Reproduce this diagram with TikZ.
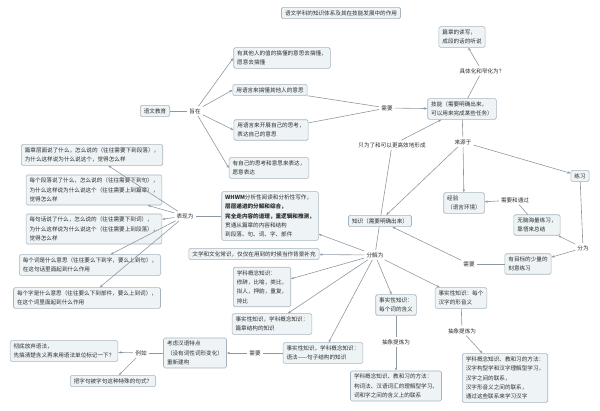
\documentclass[tikz,border=0pt]{standalone}
\usepackage{fontspec}
\newfontfamily\cjk{Noto Sans CJK SC}
\usetikzlibrary{arrows.meta}
\definecolor{boxfill}{HTML}{EEF3F6}
\definecolor{boxline}{HTML}{A7B4BF}
\definecolor{linkgray}{HTML}{8E98A2}
\definecolor{inkgray}{HTML}{2E2E2E}

\begin{document}
\begin{tikzpicture}[x=1pt,y=-1pt,
  box/.style={draw=boxline,fill=boxfill,rounded corners=1.5pt,line width=0.6pt,
    align=left,inner xsep=3.5pt,inner ysep=3pt,text=inkgray,
    font=\cjk\fontsize{5.6}{9.4}\selectfont},
  lbl/.style={inner sep=2pt,text=inkgray,font=\cjk\fontsize{5.6}{7}\selectfont},
  link/.style={draw=linkgray,line width=0.6pt},
  arr/.style={link,-{Stealth[length=3.2pt,width=2.4pt]}}]
  \useasboundingbox (0,0) rectangle (600,411);

  \node[box] (title) at (341,13) {语文学科的知识体系及其在技能发展中的作用};
  \node[box] (edu) at (155,111) {语文教育};
  \node[lbl] (aim) at (195,111) {旨在};
  \node[box] (mean) at (282,58) {有其他人的值的搞懂的意思去搞懂，\\愿意去搞懂};
  \node[box] (grasp) at (270,90) {用语言来搞懂其他人的意思};
  \node[box] (think) at (271,130) {用语言来开展自己的思考，\\表达自己的意思};
  \node[box] (express) at (269,168) {有自己的思考和意思来表达，\\愿意表达};
  \node[lbl] (needA) at (387,108) {需要};
  \node[box] (skill) at (462,109) {技能（需要明确出来，\\可以用来完成某些任务）};
  \node[lbl] (narrow) at (482,71) {具体化和窄化为？};
  \node[box] (discourse) at (462,37) {篇章的读写，\\成段的话的听说};
  \node[lbl] (only) at (392,145) {只为了和可以更高效地形成};
  \node[lbl] (source) at (463,142) {来源于};
  \node[box] (practice) at (580,176) {练习};
  \node[box] (exper) at (464,203) {经验\\（语言环境）};
  \node[lbl] (via) at (515,200) {需要和通过};
  \node[box] (mass) at (537,225) {无脑海量练习，\\靠悟来总结};
  \node[lbl] (split) at (583,248) {分为};
  \node[box] (deliber) at (528,264) {有目标的少量的\\刻意练习};
  \node[lbl] (needB) at (469,264) {需要};
  \node[box] (know) at (380,221) {知识（需要明确出来）};
  \node[lbl] (decomp) at (375,255) {分解为};
  \node[box] (whwm) at (270,216) {\textbf{WHWM}分析性阅读和分析性写作，\\\textbf{层层递进的分解和综合，}\\\textbf{完全走内容的道理，重逻辑和推测，}\\贯通从篇章的内容和结构\\到段落、句、词、字、部件};
  \node[lbl] (show) at (185,216) {表现为};
  \node[box] (qpage) at (92,155) {篇章层面说了什么，怎么说的（往往需要下到段落），\\为什么这样说为什么说这个，觉得怎么样};
  \node[box] (qpara) at (94,190) {每个段落说了什么，怎么说的（往往需要下到句），\\为什么这样说为什么说这个（往往需要上到篇章），\\觉得怎么样};
  \node[box] (qsent) at (94,229) {每句话说了什么，怎么说的（往往需要下到词），\\为什么这样说为什么说这个（往往需要上到段落），\\觉得怎么样};
  \node[box] (qword) at (90,265) {每个词是什么意思（往往要么下到字，要么上到句），\\在这句话里面起到什么作用};
  \node[box] (qchar) at (87,298) {每个字是什么意思（往往要么下到部件，要么上到词），\\在这个词里面起到什么作用};
  \node[box] (lit) at (254,254) {文学和文化常识，仅仅在用到的时候当作背景补充};
  \node[box] (rhet) at (262,287) {学科概念知识：\\修辞，比喻，类比，\\拟人，押韵，重复，\\排比};
  \node[box] (struct) at (272,324) {事实性知识，学科概念知识：\\篇章结构的知识};
  \node[box] (gram) at (323,353) {事实性知识，学科概念知识：\\语法——句子结构的知识};
  \node[lbl] (needC) at (255,353) {需要};
  \node[box] (chn) at (195,353) {考虑汉语特点\\（没有词性词形变化）\\重新建构};
  \node[lbl] (eg) at (141,353) {例如};
  \node[box] (drop) at (64,351) {彻底放弃语法，\\先搞清楚含义再来用语法单位标记一下？};
  \node[box] (ba) at (113,381) {把字句被字句这种特殊的句式？};
  \node[box] (word) at (396,305) {事实性知识：\\每个词的含义};
  \node[lbl] (absA) at (396,342) {抽象提炼为};
  \node[box] (wordm) at (396,386) {学科概念知识、教和习的方法：\\构词法、汉语词汇的理解型学习、\\词和字之间的含义上的联系};
  \node[box] (hanzi) at (461,298) {事实性知识：每个\\汉字的形音义};
  \node[lbl] (absB) at (462,331) {抽象提炼为};
  \node[box] (hanzim) at (505,378) {学科概念知识、教和习的方法：\\汉字构型学和汉字理解型学习，\\汉字之间的联系，\\汉字形音义之间的联系，\\通过这些联系来学习汉字};

  \draw[link] (edu) -- (aim);
  \foreach \t in {mean,grasp,think,express}
    \draw[arr] (aim) -- (\t.west);
  \draw[link] (grasp) -- (needA);
  \draw[link] (think) -- (needA);
  \draw[arr] (needA) -- (skill);
  \draw[link] (skill) -- (narrow);
  \draw[arr] (narrow) -- (discourse);
  \draw[link] (skill) -- (source);
  \foreach \t in {exper,practice,know}
    \draw[arr] (source) -- (\t);
  \draw[link] (know) -- (only);
  \draw[arr] (only) -- (skill);
  \draw[arr] (via) -- (exper);
  \draw[link] (via) -- (mass);
  \draw[link] (practice) -- (split);
  \draw[arr] (split) -- (mass);
  \draw[arr] (split) -- (deliber);
  \draw[link] (deliber) -- (needB);
  \draw[arr] (needB) -- (know);
  \draw[link] (know) -- (decomp);
  \foreach \t in {whwm,lit,rhet,struct,gram,word,hanzi}
    \draw[arr] (decomp) -- (\t);
  \draw[link] (whwm) -- (show);
  \foreach \t in {qpage,qpara,qsent,qword,qchar}
    \draw[arr] (show) -- (\t);
  \draw[link] (gram) -- (needC);
  \draw[arr] (needC) -- (chn);
  \draw[link] (chn) -- (eg);
  \draw[arr] (eg) -- (drop);
  \draw[arr] (eg) -- (ba);
  \draw[link] (word) -- (absA);
  \draw[arr] (absA) -- (wordm);
  \draw[link] (hanzi) -- (absB);
  \draw[arr] (absB) -- (hanzim);
\end{tikzpicture}
\end{document}
